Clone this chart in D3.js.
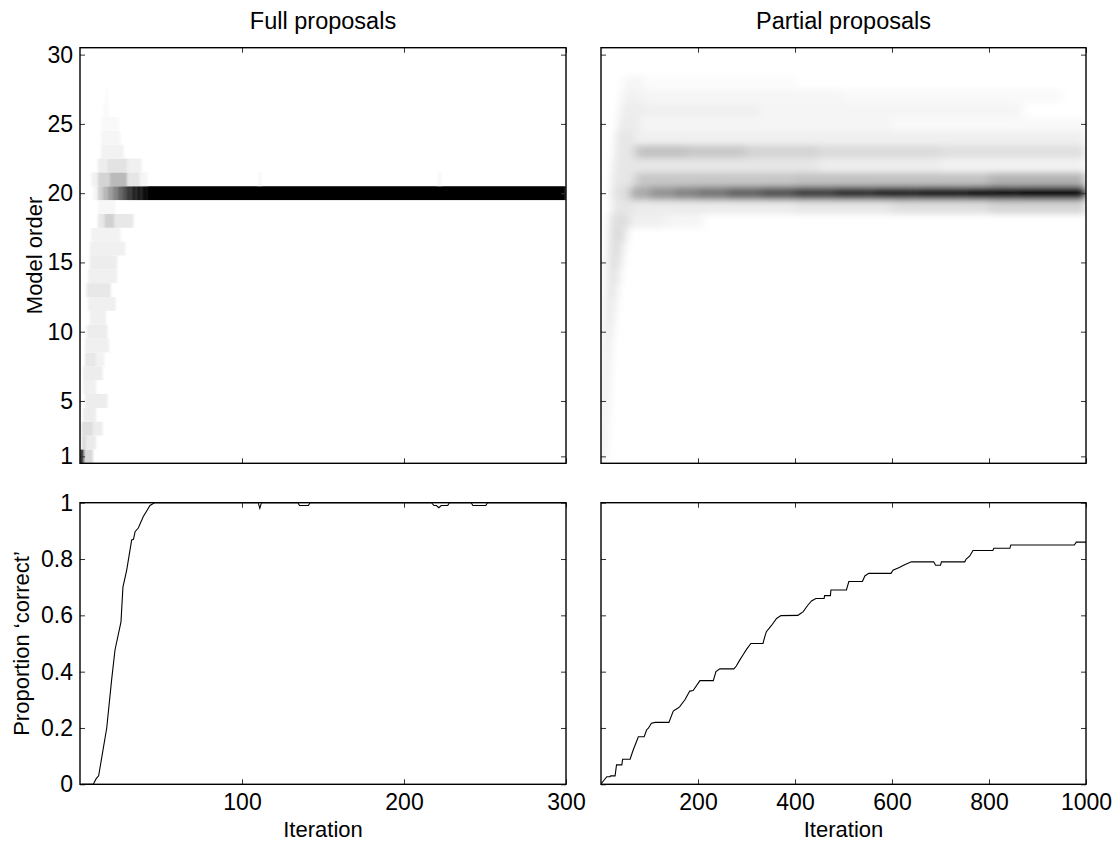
<!DOCTYPE html>
<html><head><meta charset="utf-8">
<script src="https://cdn.jsdelivr.net/npm/d3@7"></script>
<style>body{margin:0;background:#fff}</style>
</head><body>
<svg id="c" width="1115" height="842"></svg>
<script>
// ---------------- DATA ----------------
const titles = ["Full proposals", "Partial proposals"];
const xLabel = "Iteration";
const yLabels = ["Model order", "Proportion ‘correct’"];
const orderTicks = [1, 5, 10, 15, 20, 25, 30];
const propTicks = [0, 0.2, 0.4, 0.6, 0.8, 1];
const fullIterTicks = [100, 200, 300];
const partIterTicks = [200, 400, 600, 800, 1000];

// heat-map cells: [model order, iteration start, iteration end, posterior mass (0..1)]
const fullCells = [
  [1,0,2.5,0.85],[1,2.5,8,0.15],
  [2,1,4,0.14],[2,4,10,0.08],
  [3,1,8,0.13],[3,8,14,0.07],
  [4,2,10,0.07],
  [5,3,17,0.07],
  [6,2,10,0.06],
  [7,2,14,0.07],
  [8,3,10,0.09],[8,10,15,0.05],
  [9,3,18,0.06],
  [10,4,17,0.07],
  [11,6,16,0.06],
  [12,5,22,0.06],
  [13,4,19,0.09],
  [14,5,23,0.06],
  [15,6,23,0.07],
  [16,6,28,0.06],
  [17,7,25,0.05],
  [18,11,15,0.09],[18,15,21,0.18],[18,21,33,0.09],
  [19,11,22,0.03],
  [20,8,11,0.04],[20,11,14,0.18],[20,14,17,0.28],[20,17,20,0.38],[20,20,23,0.48],[20,23,26,0.58],[20,26,29,0.68],
  [20,29,32,0.78],[20,32,35,0.86],[20,35,38,0.92],[20,38,42,0.97],[20,42,300,1],
  [21,7,11,0.05],[21,11,18.5,0.17],[21,18.5,29,0.27],[21,29,37,0.1],[21,37,41.6,0.04],[21,110,112,0.03],[21,221,223,0.03],
  [22,11,16.5,0.07],[22,16.5,29,0.11],[22,29,38,0.06],
  [23,13,27,0.05],
  [24,13,25,0.035],
  [25,13,24,0.025],
  [26,14,18,0.02],
  [27,15.5,17,0.02]
];

const partCells = [
  [1,0,8,0.09],[2,0,10,0.09],[3,0,11,0.09],[4,2,13,0.09],[5,3,15,0.09],
  [6,4,16,0.09],[7,4,17,0.09],[8,5,18,0.09],[9,5,20,0.09],[10,6,24,0.09],
  [11,7,27,0.09],[12,8,30,0.09],[13,10,34,0.1],[14,12,38,0.11],[15,13,42,0.12],
  [16,15,46,0.13],[17,17,52,0.14],[18,18,60,0.13],[18,60,130,0.06],[18,130,210,0.04],
  [19,22,70,0.1],[19,70,400,0.08],[19,400,600,0.1],[19,600,800,0.13],[19,800,1000,0.17],
  [20,22,60,0.12],[20,60,100,0.33],[20,100,150,0.42],[20,150,200,0.48],[20,200,260,0.53],[20,260,330,0.6],
  [20,330,400,0.66],[20,400,480,0.74],[20,480,560,0.8],[20,560,650,0.85],[20,650,750,0.9],[20,750,860,0.95],[20,860,1000,1],
  [21,22,70,0.1],[21,70,400,0.22],[21,400,800,0.24],[21,800,1000,0.3],
  [22,25,70,0.1],[22,70,450,0.1],[22,450,700,0.07],[22,700,1000,0.05],
  [23,28,70,0.1],[23,70,180,0.24],[23,180,300,0.21],[23,300,450,0.17],[23,450,700,0.14],[23,700,1000,0.12],
  [24,30,70,0.1],[24,70,1000,0.06],
  [25,35,80,0.08],[25,80,600,0.04],[25,600,1000,0.025],
  [26,39,87,0.07],[26,87,330,0.06],[26,330,870,0.04],
  [27,42,87,0.05],[27,87,500,0.035],[27,500,950,0.025],
  [28,46,87,0.035],[28,87,400,0.015]
];

// proportion 'correct' curves
const fullIter = [1,8.2,10,11.5,16.5,19.5,21.6,25.3,26.5,28.8,31.9,33,34,36,39,43.2,46,110,111,112,134.5,135.5,141,142,217,218.5,220,221.5,223,227,228,241.5,242.5,250.5,251.5,300];
const fullProp = [0,0,0.02,0.03,0.2,0.37,0.477,0.577,0.70,0.76,0.868,0.87,0.897,0.91,0.95,0.99,1,1,0.98,1,1,0.99,0.99,1,1,0.99,0.99,0.982,0.99,0.99,1,1,0.99,0.99,1,1];

const partIter = [0,4,12,18.5,20,29,32,43,44.6,60,66,77,89,94,98,104,112,140,149,158,162,173,183,190,204,231.5,237,245,274,279,286,293,300,309,334,337,341,352,362,371,406,410,417,426,434,443,460,461,473,474,506,511,539,544,552,598,602,615,626,640,686,690,700,702,750,753,760,767,808,810,843,845,976,980,1000];
const partProp = [0,0.01,0.027,0.027,0.03,0.03,0.069,0.069,0.089,0.089,0.12,0.169,0.169,0.193,0.2,0.217,0.22,0.22,0.26,0.27,0.275,0.3,0.331,0.333,0.368,0.368,0.4,0.41,0.41,0.42,0.441,0.46,0.479,0.5,0.5,0.52,0.542,0.565,0.589,0.599,0.6,0.605,0.613,0.635,0.651,0.66,0.66,0.67,0.67,0.69,0.69,0.72,0.72,0.74,0.749,0.749,0.76,0.77,0.78,0.79,0.79,0.778,0.778,0.79,0.79,0.8,0.81,0.83,0.83,0.838,0.838,0.85,0.85,0.86,0.86];

// ---------------- DRAWING ----------------
const FONT = "'Liberation Sans', Arial, Helvetica, sans-serif";
const FS_TICK = 23, FS_LABEL = 22, FS_TITLE = 23.5;
const svg = d3.select("#c").style("font-family", FONT);
const defs = svg.append("defs");

const xFull = d3.scaleLinear().domain([0, 300]).range([80, 566]);
const xPart = d3.scaleLinear().domain([0, 1000]).range([601, 1086]);
const yOrder = d3.scaleLinear().domain([0.5, 30.5]).range([463.3, 47.7]);
const yProp = d3.scaleLinear().domain([0, 1]).range([784.3, 502.7]);
const grey = d3.scaleLinear().domain([0, 1]).range(["#ffffff", "#000000"]);

function clip(id, xs, ys) {
  const [x0, x1] = xs.range(), [y0, y1] = ys.range();
  defs.append("clipPath").attr("id", id).append("rect")
    .attr("x", x0).attr("y", Math.min(y0, y1)).attr("width", x1 - x0).attr("height", Math.abs(y1 - y0));
}
clip("cTL", xFull, yOrder); clip("cTR", xPart, yOrder);
clip("cBL", xFull, yProp); clip("cBR", xPart, yProp);

function heat(cells, xs, clipId, blur) {
  const g = svg.append("g").attr("clip-path", `url(#${clipId})`);
  const inner = g.append("g");
  if (blur) {
    const f = defs.append("filter").attr("id", blur.id)
      .attr("filterUnits", "userSpaceOnUse")
      .attr("x", 0).attr("y", 0).attr("width", 1115).attr("height", 842);
    f.append("feGaussianBlur").attr("stdDeviation", blur.sd);
    inner.attr("filter", `url(#${blur.id})`);
  }
  inner.selectAll("rect").data(cells).join("rect")
    .attr("x", d => xs(d[1]))
    .attr("width", d => Math.max(0.6, xs(d[2]) - xs(d[1])))
    .attr("y", d => yOrder(d[0] + 0.5))
    .attr("height", d => yOrder(d[0] - 0.5) - yOrder(d[0] + 0.5))
    .attr("fill", d => grey(d[3]));
}
heat(fullCells, xFull, "cTL", { id: "blurL", sd: "0.8 0.3" });
heat(partCells, xPart, "cTR", { id: "blurR", sd: "5 3.2" });

function curve(xsArr, ysArr, xs, clipId) {
  const line = d3.line().x(d => xs(d[0])).y(d => yProp(d[1]));
  svg.append("g").attr("clip-path", `url(#${clipId})`)
    .append("path").datum(d3.zip(xsArr, ysArr))
    .attr("d", line).attr("fill", "none").attr("stroke", "#000").attr("stroke-width", 1.1);
}
curve(fullIter, fullProp, xFull, "cBL");
curve(partIter, partProp, xPart, "cBR");

function axes(xs, ys, xTicks, yTicks, showX, showY) {
  const [x0, x1] = xs.range(), [y0, y1] = ys.range();
  const style = g => {
    g.select(".domain").remove();
    g.selectAll(".tick line").attr("stroke", "#333").attr("stroke-width", 1);
    g.selectAll(".tick text").attr("font-family", FONT).attr("font-size", FS_TICK).attr("fill", "#000");
  };
  svg.append("g").attr("transform", `translate(0,${y0})`)
    .call(d3.axisBottom(xs).tickValues(xTicks).tickSize(-5).tickPadding(9)
      .tickFormat(showX ? d => String(d) : () => "")).call(style);
  svg.append("g").attr("transform", `translate(0,${y1})`)
    .call(d3.axisTop(xs).tickValues(xTicks).tickSize(-5).tickFormat(() => "")).call(style);
  svg.append("g").attr("transform", `translate(${x0},0)`)
    .call(d3.axisLeft(ys).tickValues(yTicks).tickSize(-5).tickPadding(7)
      .tickFormat(showY ? d => String(d) : () => "")).call(style);
  svg.append("g").attr("transform", `translate(${x1},0)`)
    .call(d3.axisRight(ys).tickValues(yTicks).tickSize(-5).tickFormat(() => "")).call(style);
  svg.append("rect").attr("x", x0).attr("y", y1).attr("width", x1 - x0).attr("height", y0 - y1)
    .attr("fill", "none").attr("stroke", "#000").attr("stroke-width", 1.4);
}
axes(xFull, yOrder, fullIterTicks, orderTicks, false, true);
axes(xPart, yOrder, partIterTicks, orderTicks, false, false);
axes(xFull, yProp, fullIterTicks, propTicks, true, true);
axes(xPart, yProp, partIterTicks, propTicks, true, false);

// titles and labels
svg.append("text").attr("x", 323).attr("y", 29).attr("text-anchor", "middle")
  .attr("font-size", FS_TITLE).text(titles[0]);
svg.append("text").attr("x", 843.5).attr("y", 29).attr("text-anchor", "middle")
  .attr("font-size", FS_TITLE).text(titles[1]);
svg.append("text").attr("x", 323).attr("y", 837).attr("text-anchor", "middle")
  .attr("font-size", FS_LABEL).text(xLabel);
svg.append("text").attr("x", 843.5).attr("y", 837).attr("text-anchor", "middle")
  .attr("font-size", FS_LABEL).text(xLabel);
svg.append("text").attr("transform", "translate(42,255.5) rotate(-90)").attr("text-anchor", "middle")
  .attr("font-size", FS_LABEL).text(yLabels[0]);
svg.append("text").attr("transform", "translate(29,643.5) rotate(-90)").attr("text-anchor", "middle")
  .attr("font-size", FS_LABEL).text(yLabels[1]);
</script>
</body></html>
